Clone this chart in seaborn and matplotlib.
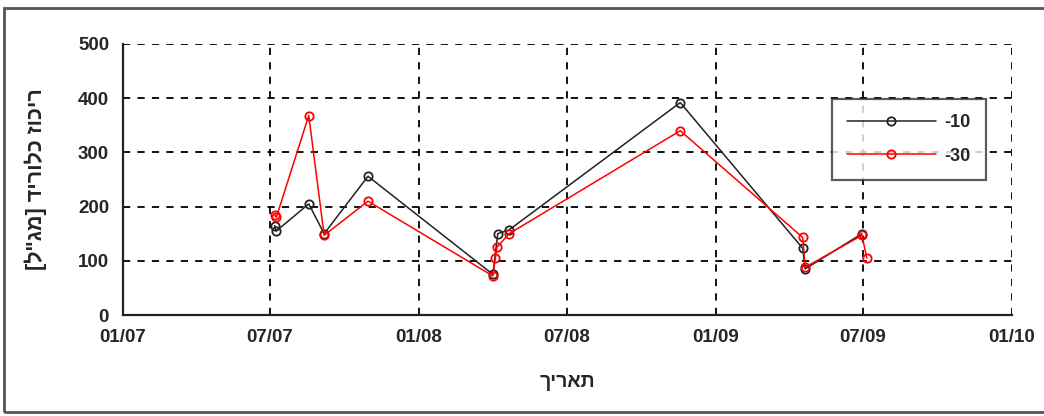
import matplotlib
matplotlib.use("Agg")
import matplotlib.pyplot as plt
import matplotlib.dates as mdates
from matplotlib.patches import Rectangle
import seaborn as sns
import pandas as pd

# data (chloride, mg/l)
dates_10 = ["2007-07-07", "2007-07-09", "2007-08-18", "2007-09-06", "2007-10-30",
            "2008-04-01", "2008-04-07", "2008-04-21", "2008-11-18",
            "2009-04-18", "2009-04-21", "2009-06-30"]
vals_10 = [165, 155, 205, 150, 256, 75, 150, 157, 392, 123, 85, 150]

dates_30 = ["2007-07-07", "2007-07-09", "2007-08-18", "2007-09-06", "2007-10-30",
            "2008-04-01", "2008-04-04", "2008-04-06", "2008-04-21", "2008-11-18",
            "2009-04-18", "2009-04-21", "2009-06-30", "2009-07-06"]
vals_30 = [185, 180, 368, 147, 210, 72, 105, 125, 150, 340, 143, 88, 147, 105]

series_names = ["-10", "-30"]
ylabel = 'ריכוז כלוריד [מג"ל]'
xlabel = "תאריך"
tick_dates = ["2007-01-01", "2007-07-01", "2008-01-01", "2008-07-01",
              "2009-01-01", "2009-07-01", "2010-01-01"]


def visual(s):
    # matplotlib has no bidi support: reverse and mirror brackets
    mirror = {"[": "]", "]": "[", "(": ")", ")": "("}
    return "".join(mirror.get(c, c) for c in s[::-1])


df = pd.concat([
    pd.DataFrame({"date": pd.to_datetime(dates_10), "value": vals_10, "depth": series_names[0]}),
    pd.DataFrame({"date": pd.to_datetime(dates_30), "value": vals_30, "depth": series_names[1]}),
])

sns.set_style("white")
plt.rcParams["font.family"] = ["Liberation Sans", "DejaVu Sans"]
plt.rcParams["font.weight"] = "bold"

fig = plt.figure(figsize=(10.44, 4.16), dpi=100)
ax = fig.add_axes([123 / 1044, 1 - 315 / 416, 889 / 1044, 271 / 416])

colors = {"-10": "#222222", "-30": "#ff0000"}
sns.lineplot(data=df, x="date", y="value", hue="depth", style="depth",
             palette=colors, markers={"-10": "o", "-30": "o"}, dashes=False,
             estimator=None, sort=False, ax=ax, lw=1.1,
             markersize=6, markerfacecolor="none", markeredgewidth=1.3)

# seaborn gives markers a white edge; use the line colour instead
for ln in ax.lines:
    ln.set_markeredgecolor(ln.get_color())
    ln.set_markerfacecolor("none")

ax.set_xlim(pd.Timestamp("2007-01-01"), pd.Timestamp("2010-01-01"))
ax.set_ylim(0, 500)
ax.set_yticks(range(0, 501, 100))
ax.set_xticks(pd.to_datetime(tick_dates))
ax.xaxis.set_major_formatter(mdates.DateFormatter("%m/%y"))

ax.grid(True, color="black", linestyle=(0, (4, 4)), lw=1.3)
for s in ["top", "right"]:
    ax.spines[s].set_visible(False)
for s in ["left", "bottom"]:
    ax.spines[s].set_color("#222222")
    ax.spines[s].set_linewidth(1.6)
ax.tick_params(axis="both", labelsize=13.5, length=4, width=1, direction="out", pad=6)
for lab in ax.get_xticklabels() + ax.get_yticklabels():
    lab.set_fontweight("bold")

ax.set_xlabel(visual(xlabel), fontsize=14, fontweight="bold", labelpad=20)
ax.set_ylabel(visual(ylabel), fontsize=15.5, fontweight="bold", labelpad=22)

handles, labels = ax.get_legend_handles_labels()
for h in handles:
    h.set_markeredgecolor(h.get_color())
    h.set_markerfacecolor("none")
leg = ax.legend(handles=handles, labels=labels, loc="upper right",
                bbox_to_anchor=(0.971, 0.797), borderaxespad=0, frameon=True,
                fancybox=False, handlelength=4.9, handletextpad=0.5,
                borderpad=0.85, labelspacing=0.9,
                prop={"weight": "bold", "size": 13})
leg.get_frame().set_edgecolor("#333333")
leg.get_frame().set_linewidth(1.6)

# outer chart border
fig.patches.append(Rectangle((4 / 1044, 4 / 416), 1.1, 404 / 416, transform=fig.transFigure,
                             fill=False, edgecolor="#555555", lw=2))

fig.savefig("out.png", dpi=100)
